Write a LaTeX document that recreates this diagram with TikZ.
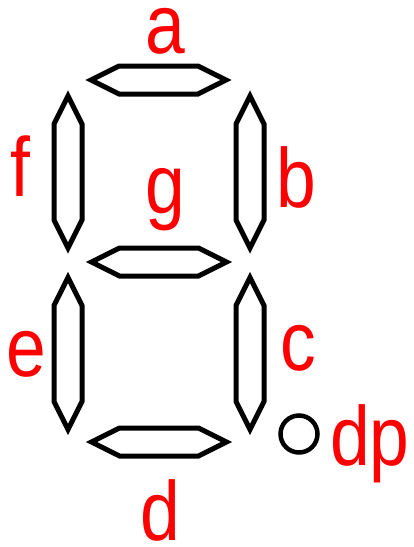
\documentclass[tikz,border=0pt]{standalone}
\usepackage{fontspec}
\setmainfont{Liberation Sans}
\newcommand\hsegment[2]{\draw[seg] (#1-67.5,#2) -- ++(28,-14) -- (#1+39.5,#2-14) -- (#1+67.5,#2) -- (#1+39.5,#2+14) -- (#1-39.5,#2+14) -- cycle;}
\newcommand\vsegment[2]{\draw[seg] (#1,#2-76) -- (#1+14,#2-48) -- (#1+14,#2+48) -- (#1,#2+76) -- (#1-14,#2+48) -- (#1-14,#2-48) -- cycle;}
\newcommand\lbl[1]{\scalebox{0.85}[1]{#1}}
\begin{document}
\begin{tikzpicture}[x=1pt,y=-1pt,
  seg/.style={draw=black,line width=5pt,line join=miter},
  lab/.style={text=red,anchor=base,inner sep=0pt,font=\fontsize{84}{84}\selectfont}]
\useasboundingbox (0,0) rectangle (414,547);
\hsegment{158.5}{80}
\hsegment{159}{262}
\hsegment{159}{442}
\vsegment{68}{172}
\vsegment{250}{172}
\vsegment{68}{353.5}
\vsegment{250}{353.5}
\node[draw=black,line width=4.5pt,circle,minimum size=37pt,inner sep=0pt] (dot) at (299,434) {};
\node[lab] (la) at (165,53) {\lbl{a}};
\node[lab] (lf) at (20,196) {\lbl{f}};
\node[lab] (lb) at (296,207) {\lbl{b}};
\node[lab] (lg) at (165,213) {\lbl{g}};
\node[lab] (le) at (26,376) {\lbl{e}};
\node[lab] (lc) at (298,370) {\lbl{c}};
\node[lab] (ldp) at (370,465) {\lbl{dp}};
\node[lab] (ld) at (160,540) {\lbl{d}};
\end{tikzpicture}
\end{document}
